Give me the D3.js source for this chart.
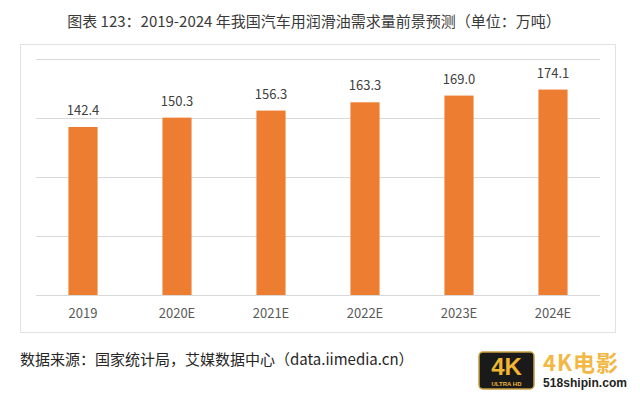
<!DOCTYPE html>
<html>
<head>
<meta charset="utf-8">
<script src="https://cdn.jsdelivr.net/npm/d3@7"></script>
<style>
  body { margin: 0; background: #fff; }
  svg { display: block; font-family: "Noto Sans CJK SC", "Noto Sans", sans-serif; }
</style>
</head>
<body>
<svg id="chart" width="640" height="395"></svg>
<script>
const categories = ["2019", "2020E", "2021E", "2022E", "2023E", "2024E"];
const values = [142.4, 150.3, 156.3, 163.3, 169.0, 174.1];
const gridTicks = [0, 50, 100, 150, 200];

const titleText = "图表 123：2019-2024 年我国汽车用润滑油需求量前景预测（单位：万吨）";
const sourceText = "数据来源：国家统计局，艾媒数据中心（data.iimedia.cn）";

const svg = d3.select("#chart");

// title
svg.append("text")
  .attr("x", 314)
  .attr("y", 27)
  .attr("text-anchor", "middle")
  .attr("font-size", 15)
  .attr("fill", "#3a3a3a")
  .text(titleText);

// chart panel
svg.append("rect")
  .attr("x", 20.5)
  .attr("y", 44.5)
  .attr("width", 595)
  .attr("height", 288)
  .attr("fill", "#fff")
  .attr("stroke", "#e2e2e2");

const x = d3.scaleBand()
  .domain(categories)
  .range([36, 600])
  .paddingInner(0.69)
  .paddingOuter(0.345);

const y = d3.scaleLinear()
  .domain([0, 200])
  .range([295, 59]);

// gridlines
svg.append("g")
  .selectAll("line")
  .data(gridTicks)
  .join("line")
  .attr("x1", 36)
  .attr("x2", 600)
  .attr("y1", (d) => Math.round(y(d)) + 0.5)
  .attr("y2", (d) => Math.round(y(d)) + 0.5)
  .attr("stroke", "#d9d9d9")
  .attr("stroke-width", 1);

// bars
svg.append("g")
  .selectAll("rect")
  .data(values)
  .join("rect")
  .attr("x", (d, i) => x(categories[i]))
  .attr("y", (d) => y(d))
  .attr("width", x.bandwidth())
  .attr("height", (d) => y(0) - y(d))
  .attr("fill", "#ed7d31");

// value labels
svg.append("g")
  .selectAll("text")
  .data(values)
  .join("text")
  .attr("x", (d, i) => x(categories[i]) + x.bandwidth() / 2)
  .attr("y", (d) => y(d) - 12)
  .attr("text-anchor", "middle")
  .attr("font-size", 13)
  .attr("fill", "#404040")
  .text((d) => d.toFixed(1));

// category axis
const xAxis = svg.append("g")
  .attr("transform", "translate(0,295)")
  .call(d3.axisBottom(x).tickSize(0).tickPadding(14));
xAxis.select(".domain").remove();
xAxis.selectAll("text")
  .attr("font-size", 13)
  .attr("font-family", "Noto Sans CJK SC, Noto Sans, sans-serif")
  .attr("fill", "#595959");

// source note
svg.append("text")
  .attr("x", 20)
  .attr("y", 365)
  .attr("font-size", 15)
  .attr("fill", "#262626")
  .text(sourceText);

// watermark
const wm = svg.append("g");
wm.append("rect")
  .attr("x", 479)
  .attr("y", 352)
  .attr("width", 55)
  .attr("height", 37)
  .attr("rx", 4)
  .attr("fill", "#1a1a1a")
  .attr("stroke", "#c9a040")
  .attr("stroke-width", 1.5);
wm.append("text")
  .attr("x", 506.5)
  .attr("y", 375)
  .attr("text-anchor", "middle")
  .attr("font-size", 24)
  .attr("font-weight", "bold")
  .attr("font-family", "Liberation Sans, sans-serif")
  .attr("fill", "#f0b534")
  .text("4K");
wm.append("text")
  .attr("x", 506.5)
  .attr("y", 386)
  .attr("text-anchor", "middle")
  .attr("font-size", 6)
  .attr("font-weight", "bold")
  .attr("font-family", "Liberation Sans, sans-serif")
  .attr("fill", "#f0b534")
  .text("ULTRA HD");
wm.append("text")
  .attr("x", 543)
  .attr("y", 371)
  .attr("font-size", 22)
  .attr("font-weight", "bold")
  .attr("fill", "#f2b843")
  .attr("letter-spacing", 1)
  .text("4K电影");
wm.append("text")
  .attr("x", 543)
  .attr("y", 387)
  .attr("font-size", 12)
  .attr("font-weight", "bold")
  .attr("font-family", "Liberation Sans, sans-serif")
  .attr("textLength", 84)
  .attr("fill", "#222")
  .text("518shipin.com");
</script>
</body>
</html>
